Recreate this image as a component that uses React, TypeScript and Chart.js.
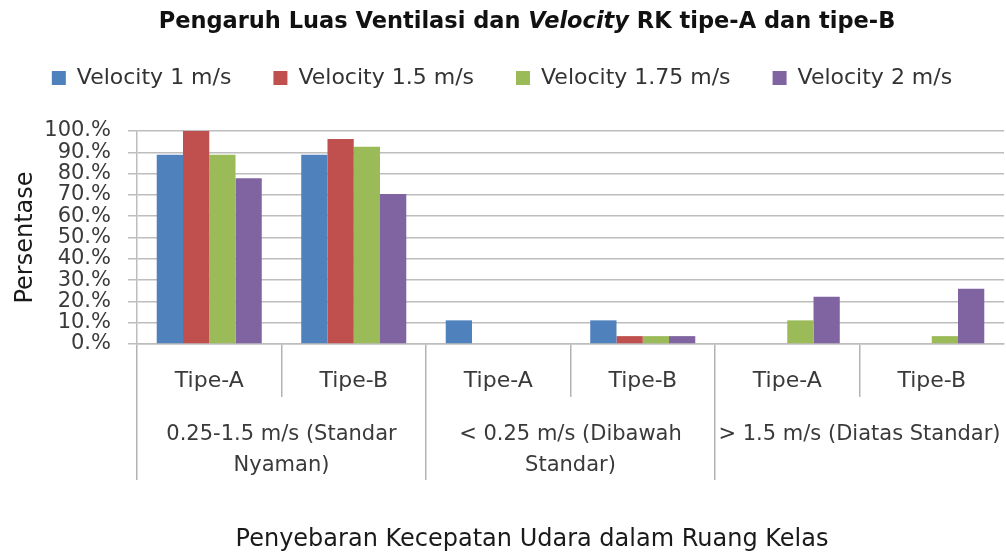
import React, { useEffect, useRef } from 'react';
import { Chart, registerables } from 'chart.js';

Chart.register(...registerables);

// ---- data ----
const categories: string[] = ['Tipe-A', 'Tipe-B', 'Tipe-A', 'Tipe-B', 'Tipe-A', 'Tipe-B'];
const groupLabels: string[][] = [
  ['0.25-1.5 m/s (Standar', 'Nyaman)'],
  ['< 0.25 m/s (Dibawah', 'Standar)'],
  ['> 1.5 m/s (Diatas Standar)'],
];
const seriesNames: string[] = ['Velocity 1 m/s', 'Velocity 1.5 m/s', 'Velocity 1.75 m/s', 'Velocity 2 m/s'];
const velocity1: number[] = [88.9, 88.9, 11.1, 11.1, 0, 0];
const velocity15: number[] = [100, 96.3, 0, 3.7, 0, 0];
const velocity175: number[] = [88.9, 92.6, 0, 3.7, 11.1, 3.7];
const velocity2: number[] = [77.8, 70.4, 0, 3.7, 22.2, 25.9];
const yTickValues: number[] = [0, 10, 20, 30, 40, 50, 60, 70, 80, 90, 100];
const yTickLabels: string[] = ['0.%', '10.%', '20.%', '30.%', '40.%', '50.%', '60.%', '70.%', '80.%', '90.%', '100.%'];
const titleParts: { text: string; italic: boolean }[] = [
  { text: 'Pengaruh Luas Ventilasi dan ', italic: false },
  { text: 'Velocity', italic: true },
  { text: ' RK tipe-A dan tipe-B', italic: false },
];
const yTitle = 'Persentase';
const xTitle = 'Penyebaran Kecepatan Udara dalam Ruang Kelas';

const colors = ['#4F81BD', '#C0504D', '#9BBB59', '#8064A2'];
const FAMILY = '"DejaVu Sans", sans-serif';
const gridGray = '#bdbdbd';
const sepColor = (c: any) => (c.type === 'tick' ? '#b3b3b3' : 'rgba(0,0,0,0)');

const titlesPlugin = {
  id: 'mixedTitles',
  afterDraw(chart: any) {
    const ctx = chart.ctx as CanvasRenderingContext2D;
    ctx.save();
    ctx.fillStyle = '#111';
    ctx.textBaseline = 'alphabetic';
    ctx.textAlign = 'left';
    const fonts = titleParts.map((p) => `${p.italic ? 'italic ' : ''}bold 22.5px ${FAMILY}`);
    const widths = titleParts.map((p, i) => {
      ctx.font = fonts[i];
      return ctx.measureText(p.text).width;
    });
    const total = widths.reduce((a, b) => a + b, 0);
    let x = 527 - total / 2;
    titleParts.forEach((p, i) => {
      ctx.font = fonts[i];
      ctx.fillText(p.text, x, 28);
      x += widths[i];
    });
    ctx.font = `24px ${FAMILY}`;
    ctx.textAlign = 'center';
    ctx.fillStyle = '#1a1a1a';
    ctx.fillText(xTitle, 532, 546);
    ctx.restore();
  },
};

export default function App() {
  const ref = useRef<HTMLCanvasElement>(null);
  useEffect(() => {
    document.body.style.margin = '0';
    Chart.defaults.font.family = FAMILY;
    const series = [velocity1, velocity15, velocity175, velocity2];
    const chart = new Chart(ref.current as HTMLCanvasElement, {
      type: 'bar',
      data: {
        labels: categories,
        datasets: series.map((d, i) => ({
          label: seriesNames[i],
          data: d,
          backgroundColor: colors[i],
          borderWidth: 0,
          categoryPercentage: 0.727,
          barPercentage: 1.0,
          xAxisID: 'x',
          yAxisID: 'y',
        })),
      },
      options: {
        responsive: false,
        animation: false,
        layout: { padding: { top: 25, right: 2, left: 0, bottom: 0 } },
        plugins: {
          title: { display: false },
          // empty spacer between legend and plot area
          subtitle: {
            display: true,
            text: '',
            weight: 500,
            position: 'top',
            font: { size: 10, lineHeight: 1 },
            padding: { top: 11, bottom: 11 },
          },
          tooltip: { enabled: false },
          legend: {
            display: true,
            position: 'top',
            labels: {
              boxWidth: 14,
              boxHeight: 14,
              padding: 42,
              color: '#333',
              font: { size: 22, family: FAMILY },
            },
          },
        },
        scales: {
          x: {
            type: 'category',
            position: 'bottom',
            offset: true,
            grid: {
              offset: true,
              drawOnChartArea: false,
              drawTicks: true,
              tickLength: 53,
              lineWidth: 1.5,
              color: sepColor,
            },
            border: { display: true, color: gridGray, width: 1.5 },
            ticks: {
              autoSkip: false,
              maxRotation: 0,
              minRotation: 0,
              padding: -29,
              color: '#3a3a3a',
              font: { size: 22, family: FAMILY },
            },
            afterFit: (s: any) => {
              s.height = 53;
            },
          },
          x2: {
            type: 'category',
            position: 'bottom',
            labels: groupLabels as any,
            offset: true,
            grid: {
              offset: true,
              drawOnChartArea: false,
              drawTicks: true,
              tickLength: 83,
              lineWidth: 1.5,
              color: sepColor,
            },
            border: { display: false },
            ticks: {
              autoSkip: false,
              maxRotation: 0,
              minRotation: 0,
              padding: -61,
              color: '#3a3a3a',
              font: { size: 21, family: FAMILY, lineHeight: 1.476 },
            },
            afterFit: (s: any) => {
              s.height = 158;
            },
          },
          y: {
            type: 'linear',
            min: 0,
            max: 100,
            grid: { color: gridGray, lineWidth: 1.5, drawTicks: true, tickLength: 9 },
            border: { display: true, color: gridGray, width: 1.5 },
            ticks: {
              stepSize: 10,
              autoSkip: false,
              padding: 17,
              color: '#3a3a3a',
              font: { size: 21, family: FAMILY },
              callback: (v: any) => {
                const i = yTickValues.indexOf(Number(v));
                return i >= 0 ? yTickLabels[i] : '';
              },
            },
            title: {
              display: true,
              text: yTitle,
              color: '#1a1a1a',
              font: { size: 24, family: FAMILY },
              padding: { top: 11, bottom: 0 },
            },
            afterFit: (s: any) => {
              s.width = 137;
            },
          },
        },
      },
      plugins: [titlesPlugin],
    } as any);
    return () => chart.destroy();
  }, []);
  return (
    <div style={{ width: 1006, height: 555, background: '#fff' }}>
      <canvas ref={ref} width={1006} height={555} style={{ display: 'block' }} />
    </div>
  );
}
